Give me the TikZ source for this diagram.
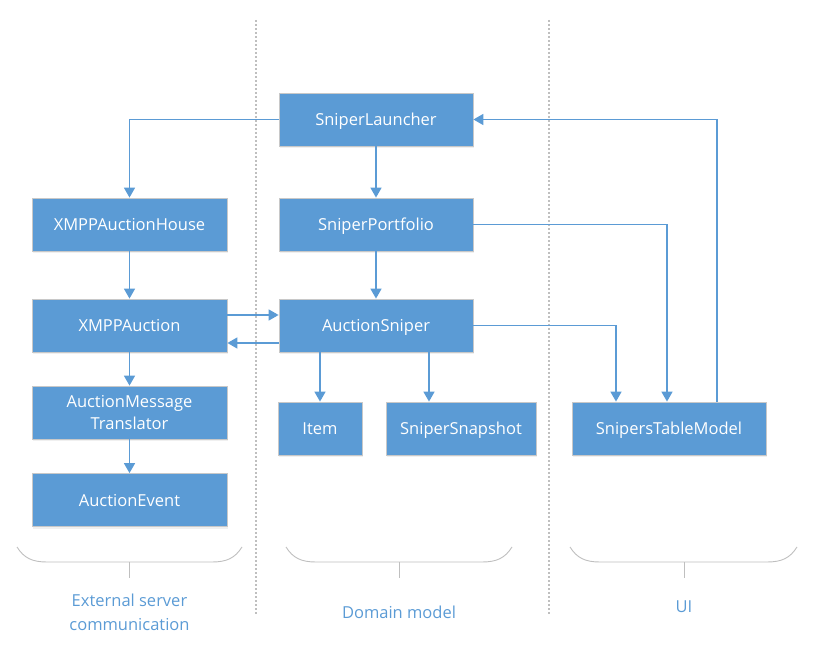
\documentclass[tikz,border=0pt]{standalone}
\usepackage{fontspec}
\setmainfont{Open Sans}
\usetikzlibrary{arrows.meta,shadows}
\definecolor{boxblue}{HTML}{5B9BD5}
\definecolor{boxborder}{HTML}{C8C8C8}
\definecolor{linegrey}{HTML}{BFBFBF}
\tikzset{
  box/.style={draw=boxborder, line width=0.8pt, fill=boxblue, text=white, inner sep=0pt,
     minimum height=53pt, align=center, font=\fontsize{16.5}{22}\selectfont, text depth=0pt,
     drop shadow={shadow xshift=1pt, shadow yshift=-2pt, opacity=0.12}},
  arr/.style={draw=boxblue, line width=1.6pt, -{Triangle[width=11pt,length=10pt]}},
  divider/.style={draw=linegrey, line width=1.2pt, dash pattern=on 2pt off 2pt},
  brace/.style={draw=linegrey, line width=0.9pt},
  grouplabel/.style={text=boxblue, align=center, font=\fontsize{16.5}{24}\selectfont}
}
\begin{document}
\begin{tikzpicture}[x=1pt,y=-1pt]
\useasboundingbox (0,0) rectangle (823,663);
% dividers
\draw[divider] (256,20) -- (256,615);
\draw[divider] (549,20) -- (549,615);
% boxes
\node[box, minimum width=194pt] (launcher) at (376,119.5) {SniperLauncher};
\node[box, minimum width=195pt] (house) at (129.5,224.5) {XMPPAuctionHouse};
\node[box, minimum width=194pt] (portfolio) at (376,224.5) {SniperPortfolio};
\node[box, minimum width=195pt] (xmpp) at (129.5,325.5) {XMPPAuction};
\node[box, minimum width=194pt] (sniper) at (376,325.5) {AuctionSniper};
\node[box, minimum width=195pt] (translator) at (129.5,412.5) {AuctionMessage\\Translator};
\node[box, minimum width=195pt] (event) at (129.5,500) {AuctionEvent};
\node[box, minimum width=84pt] (item) at (320,428.5) {Item};
\node[box, minimum width=150pt] (snapshot) at (461,428.5) {SniperSnapshot};
\node[box, minimum width=194pt] (table) at (669,428.5) {SnipersTableModel};
% connectors
\draw[arr] (launcher.west) -| (house.north);
\draw[arr] (launcher.south) -- (portfolio.north);
\draw[arr] (house.south) -- (xmpp.north);
\draw[arr] (portfolio.south) -- (sniper.north);
\draw[arr] ([yshift=10.5pt]xmpp.east) -- ([yshift=10.5pt]sniper.west);
\draw[arr] ([yshift=-17.5pt]sniper.west) -- ([yshift=-17.5pt]xmpp.east);
\draw[arr] (xmpp.south) -- (translator.north);
\draw[arr] (translator.south) -- (event.north);
\draw[arr] (item.north |- sniper.south) -- (item.north);
\draw[arr] ([xshift=-32pt]snapshot.north |- sniper.south) -- ([xshift=-32pt]snapshot.north);
\draw[arr] (sniper.east) -| ([xshift=-53pt]table.north);
\draw[arr] (portfolio.east) -| ([xshift=-2pt]table.north);
\draw[arr] ([xshift=48pt]table.north) |- (launcher.east);
% group braces
\draw[brace] (17,547) .. controls (24,558) and (32,562) .. (47,562) -- (212,562) .. controls (227,562) and (235,558) .. (242,547);
\draw[brace] (129.5,562) -- (129.5,578);
\draw[brace] (286,547) .. controls (293,558) and (301,562) .. (316,562) -- (482,562) .. controls (497,562) and (505,558) .. (512,547);
\draw[brace] (399,562) -- (399,578);
\draw[brace] (570,547) .. controls (577,558) and (585,562) .. (600,562) -- (767,562) .. controls (782,562) and (790,558) .. (797,547);
\draw[brace] (684,562) -- (684,578);
% labels
\node[grouplabel] (lext) at (129.5,612) {External server\\communication};
\node[grouplabel] (ldom) at (399,612) {Domain model};
\node[grouplabel] (lui) at (684,607) {UI};
\end{tikzpicture}
\end{document}
